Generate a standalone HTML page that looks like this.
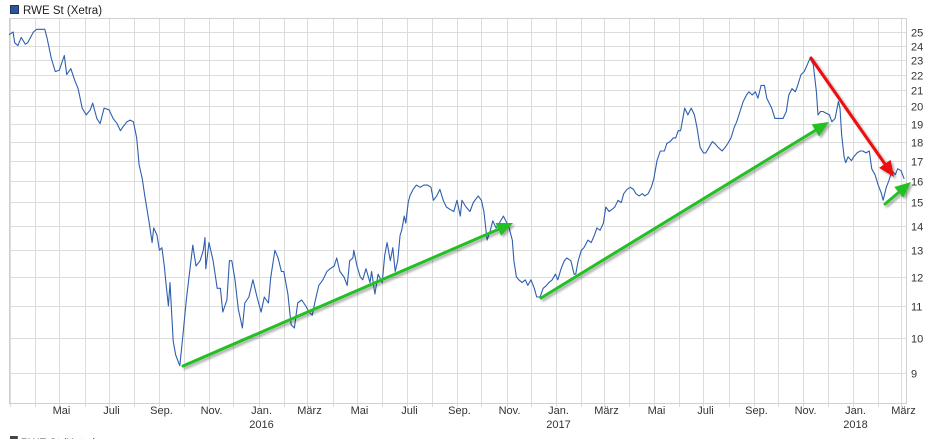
<!DOCTYPE html>
<html><head><meta charset="utf-8">
<style>
html,body{margin:0;padding:0;background:#fff;overflow:hidden;}
svg{display:block;font-family:"Liberation Sans",sans-serif;}
</style></head>
<body>
<svg id="chart" width="929" height="439" viewBox="0 0 929 439">
  <rect x="0" y="0" width="929" height="439" fill="#fff"/>
  <g>
    <rect x="10.5" y="5.5" width="8" height="8" fill="#2d5597" stroke="#1c3766"/>
    <text x="23" y="14" font-size="11.5" fill="#222">RWE St (Xetra)</text>
  </g>
  <g id="grid"></g>
  <g id="xaxis"></g>
  <g id="yaxis"></g>
  <path id="series" fill="none" stroke="#2f5fae" stroke-width="1.1" stroke-linejoin="round"/>
  <defs>
    <filter id="sh" x="-20%" y="-20%" width="140%" height="140%">
      <feGaussianBlur in="SourceAlpha" stdDeviation="1.2"/>
      <feOffset dx="2" dy="2" result="b"/>
      <feComponentTransfer><feFuncA type="linear" slope="0.35"/></feComponentTransfer>
      <feMerge><feMergeNode/><feMergeNode in="SourceGraphic"/></feMerge>
    </filter>
  </defs>
  <g id="arrows" filter="url(#sh)"></g>
  <text x="10" y="446" font-size="11" fill="#444">▀ RWE St (Xetra) ...</text>
</svg>
<script>
const days = [0,5,7,11,15,20,23,30,34,44,47,52,57,62,68,71,76,81,85,90,95,100,103,108,112,117,123,128,133,137,140,145,149,153,157,160,164,167,172,176,178,182,185,188,191,193,196,198,202,205,210,214,218,221,226,230,235,239,241,242,246,251,256,260,263,268,271,274,278,282,287,290,295,300,305,310,314,319,322,327,331,335,338,343,347,351,355,360,365,369,373,376,381,386,391,395,400,403,407,412,416,419,423,424,428,432,435,439,444,446,450,454,459,462,465,469,472,475,478,481,483,486,488,491,493,497,501,506,510,515,519,522,526,530,534,538,542,547,551,555,557,562,567,571,573,577,581,584,588,592,595,599,603,608,611,615,619,621,624,627,631,635,638,642,646,649,653,657,661,664,668,672,675,679,683,686,691,695,697,700,704,707,712,716,720,723,727,731,734,738,742,745,749,753,756,760,764,768,771,775,779,782,786,790,793,797,801,806,809,813,817,820,823,826,831,835,839,843,846,850,854,857,861,865,868,872,877,881,884,888,892,895,899,903,907,910,914,918,921,925,929,932,935,938,942,948,952,956,959,963,967,970,974,978,982,985,989,993,995,998,1001,1005,1009,1012,1016,1020,1022,1024,1027,1029,1032,1036,1039,1043,1047,1050,1054,1058,1061,1065,1069,1073,1075,1079,1082,1086,1090,1093,1097,1101];
const prices = [24.8,25,24.2,24.0,24.6,24.1,24.2,25,25.2,25.2,24.5,23.1,22.2,22.3,23.3,22,22.4,21.6,21.1,19.9,19.5,19.8,20.2,19.3,19,19.9,19.8,19.3,19,18.6,18.8,19.1,19.2,19.1,18.2,16.8,16.1,15.3,14.2,13.3,13.9,13.6,13,13.1,12.4,11.8,11,11.8,9.9,9.5,9.2,10.1,11.2,11.9,13.2,12.4,12.6,13,13.5,12.3,13.3,12.6,11.6,11.6,10.8,11.2,12.6,12.6,11.9,10.9,10.3,11.1,11.3,11.9,11.3,10.8,11.3,11.1,12,13,12.7,12.2,12.2,11.4,10.4,10.3,11.1,11.2,11,10.8,10.7,11.1,11.7,11.9,12.2,12.3,12.4,12.7,12.2,12,11.7,12.6,12.7,13,12.4,12,11.9,12.3,11.8,12.2,11.4,12.1,11.8,12.8,13.3,12.6,13.1,12.2,12.6,13.6,13.8,14.4,14.1,15,15.3,15.6,15.8,15.7,15.8,15.8,15.7,15.1,15.3,15.6,15.1,14.8,14.7,14.6,15.1,14.4,15.1,14.8,14.6,15,15.1,15.3,15.1,14.6,13.4,13.8,14.2,13.9,14.1,14.4,14.2,13.9,13.4,12.6,12,11.9,11.8,11.9,11.7,11.9,11.6,11.3,11.3,11.6,11.7,11.8,11.9,12.1,11.9,12.3,12.6,12.7,12.6,12.1,12.1,12.6,13,13.1,13.4,13.3,13.6,13.9,13.8,14.1,14.8,14.6,14.7,14.8,15.1,15,15.4,15.6,15.7,15.6,15.4,15.3,15.4,15.3,15.4,15.7,16.1,17,17.5,17.5,17.9,18,18.2,18.2,18.6,18.6,19.9,19.5,19.9,19.5,18.8,17.7,17.4,17.4,17.7,18,17.9,17.7,17.5,17.7,17.9,18.2,18.8,19.1,19.7,20.3,20.7,20.9,20.7,20.9,20.5,21.3,21.3,20.5,20.2,19.9,19.3,19.3,19.3,19.7,20.7,21.1,20.9,21.3,22,22.2,22.7,23.1,22.7,20.9,19.5,19.7,19.7,19.6,19.5,19.1,19.3,20.3,19.9,18.4,17.2,16.9,17.2,17,17.2,17.4,17.5,17.5,17.4,17.5,16.6,16.3,15.8,15.4,15.1,15.7,16,16.5,16.3,16.6,16.5,16.1];
const yTicks = [9,10,11,12,13,14,15,16,17,18,19,20,21,22,23,24,25];
const monthNames = ["Jan.","Feb.","März","Apr.","Mai","Juni","Juli","Aug.","Sep.","Okt.","Nov.","Dez."];

const NS = "http://www.w3.org/2000/svg";
const L = 9, R = 906, T = 18, B = 403;
const startDate = Date.UTC(2015,1,28);
const pxPerDay = 0.8131;
function xScale(d){ return L + d*pxPerDay; }
function yScale(v){ return 373 - 333.8*Math.log(v/9); }
function dayOf(y,m){ return (Date.UTC(y,m,1)-startDate)/86400000; }
function mk(tag, attrs, parent){ const e=document.createElementNS(NS,tag); for(const k in attrs) e.setAttribute(k,attrs[k]); parent.appendChild(e); return e; }

const grid = document.getElementById('grid');
const xaxis = document.getElementById('xaxis');
const yaxis = document.getElementById('yaxis');

yTicks.forEach(v=>{
  const y = Math.round(yScale(v))+0.5;
  const ln = mk('line',{x1:L,x2:R,y1:y,y2:y,stroke:'#dcdcdc','stroke-width':1},grid);
  
  
  const t = mk('text',{x:911,y:y+4,'font-size':11,fill:'#333'},yaxis);
  t.textContent = v;
  
  
});

for(let y=2015;y<=2018;y++){
  for(let m=0;m<12;m++){
    const d = dayOf(y,m);
    const x = Math.round(xScale(d))+0.5;
    if(x<L+1 || x>R) continue;
    const ln = mk('line',{x1:x,x2:x,y1:T,y2:B+4,stroke:'#dcdcdc','stroke-width':1},grid);
    
    
    if(m%2===0 && x>30){
      const t = mk('text',{x:x+2,y:414,'font-size':11,fill:'#333','text-anchor':'middle'},xaxis);
      t.textContent = monthNames[m];
      
      
      if(m===0){
        const yt = mk('text',{x:x+2,y:428,'font-size':11,fill:'#333','text-anchor':'middle'},xaxis);
        yt.textContent = y;
        
        
      }
    }
  }
}
const frame = mk('rect',{x:L+0.5,y:T+0.5,width:R-L,height:B-T,fill:'none',stroke:'#d0d0d0'},grid);



let dstr='';
days.forEach((d,i)=>{ dstr += (i?'L':'M') + xScale(d).toFixed(1)+','+yScale(prices[i]).toFixed(1); });
document.getElementById('series').setAttribute('d',dstr);

const arrows = document.getElementById('arrows');
function arrow(x1,y1,x2,y2,color,name){
  const g = mk('g',{},arrows);
  
  
  const a = Math.atan2(y2-y1,x2-x1), hl=16, hw=7;
  const bx = x2-hl*Math.cos(a), by = y2-hl*Math.sin(a);
  mk('line',{x1:x1,y1:y1,x2:bx,y2:by,stroke:color,'stroke-width':3,'stroke-linecap':'round'},g);
  const px=-Math.sin(a)*hw, py=Math.cos(a)*hw;
  mk('polygon',{points:`${x2},${y2} ${bx+px},${by+py} ${bx-px},${by-py}`,fill:color},g);
}
arrow(183,366,513,223,'#22c022','green-arrow-1');
arrow(541,298,829,122,'#22c022','green-arrow-2');
arrow(811,58,894,177,'#ee1111','red-arrow');
arrow(885,204,911,182,'#22c022','green-arrow-3');
</script>
</body></html>
